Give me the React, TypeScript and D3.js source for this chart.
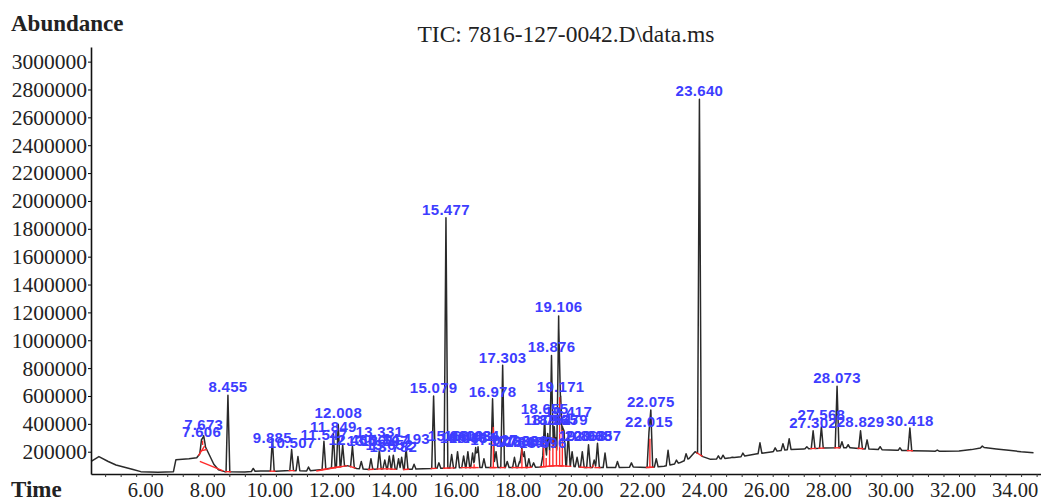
import * as d3 from "d3";
import { useRef, useEffect } from "react";

// TIC baseline: [time (min), abundance]
const baseline: [number, number][] = [
  [4.05, 130000], [4.3, 165000], [4.6, 130000], [4.85, 105000], [5.4, 72000],
  [5.65, 57000], [6.2, 52000], [6.7, 57000], [6.78, 143000], [7.2, 150000],
  [7.45, 157000], [7.55, 185000], [7.62, 250000], [7.72, 240000], [7.85, 180000],
  [8.0, 110000], [8.15, 70000], [8.35, 57000], [9.0, 55000], [9.5, 62000],
  [10.0, 60000], [10.5, 65000], [11.0, 62000], [11.5, 72000], [12.0, 90000],
  [12.3, 100000], [12.6, 80000], [13.0, 72000], [13.5, 78000], [14.0, 72000],
  [14.5, 75000], [15.0, 80000], [15.5, 82000], [16.0, 86000], [17.0, 86000],
  [18.0, 86000], [18.5, 90000], [19.0, 100000], [19.5, 95000], [20.0, 86000],
  [20.5, 86000], [21.0, 86000], [21.5, 90000], [22.0, 86000], [22.5, 95000],
  [23.0, 120000], [23.3, 150000], [23.5, 200000], [23.75, 165000], [24.0, 145000],
  [24.4, 150000], [25.0, 165000], [25.5, 185000], [26.0, 200000], [26.5, 215000],
  [27.0, 220000], [27.5, 225000], [28.0, 228000], [28.5, 228000], [29.0, 220000],
  [29.5, 215000], [30.0, 210000], [30.5, 207000], [31.0, 205000], [31.5, 203000],
  [32.0, 205000], [32.4, 215000], [32.8, 230000], [33.2, 220000], [33.6, 210000],
  [34.0, 200000], [34.4, 192000], [34.7, 190000],
];

// integrated peaks: [retention time, apex abundance, label level]
const labelledPeaks: [number, number, number][] = [
  [7.606, 290000, 307000], [7.673, 315000, 357000], [8.455, 605000, 629000],
  [9.885, 290000, 264000], [10.507, 215000, 229000], [11.547, 275000, 286000],
  [11.849, 330000, 343000], [12.008, 395000, 443000], [12.465, 240000, 250000],
  [13.061, 150000, 243000], [13.331, 210000, 307000], [13.507, 140000, 243000],
  [13.652, 170000, 214000], [13.782, 175000, 200000], [14.193, 225000, 257000],
  [15.079, 600000, 621000], [15.477, 1880000, 1900000], [15.660, 180000, 279000],
  [16.046, 170000, 264000], [16.183, 200000, 279000], [16.334, 190000, 264000],
  [16.434, 230000, 279000], [16.978, 580000, 593000], [17.027, 140000, 250000],
  [17.303, 820000, 836000], [17.683, 160000, 243000], [17.848, 130000, 236000],
  [17.998, 200000, 243000], [18.147, 150000, 236000], [18.596, 170000, 229000],
  [18.655, 440000, 471000], [18.754, 330000, 393000], [18.876, 890000, 914000],
  [18.965, 380000, 393000], [19.106, 1175000, 1200000], [19.171, 600000, 629000],
  [19.279, 350000, 393000], [19.417, 330000, 450000], [19.868, 200000, 279000],
  [20.068, 250000, 279000], [20.357, 260000, 279000], [22.015, 340000, 379000],
  [22.075, 500000, 521000], [23.640, 2730000, 2750000], [27.302, 350000, 371000],
  [27.568, 380000, 429000], [28.073, 670000, 693000], [28.829, 350000, 379000],
  [30.418, 370000, 386000],
];

// small unlabelled peaks: [time, apex abundance]
const minorPeaks: [number, number][] = [
  [9.27, 80000], [10.71, 165000], [11.05, 90000], [12.15, 250000], [12.75, 130000],
  [13.95, 150000], [14.05, 160000], [14.45, 110000], [15.25, 120000], [15.85, 200000],
  [16.51, 235000], [16.7, 150000], [17.09, 200000], [17.45, 130000], [17.92, 228000],
  [18.3, 120000], [18.8, 250000], [19.02, 300000], [19.23, 380000], [19.54, 200000],
  [19.7, 160000], [20.25, 140000], [20.6, 190000], [21.0, 130000], [21.45, 120000],
  [22.25, 150000], [22.63, 210000], [22.9, 140000], [23.21, 186000], [24.25, 170000],
  [24.4, 175000], [24.7, 160000], [25.04, 190000], [25.59, 264000], [26.08, 228000],
  [26.33, 257000], [26.53, 293000], [27.1, 235000], [28.23, 271000], [28.43, 250000],
  [29.04, 285000], [29.46, 236000], [30.1, 228000], [31.3, 212000], [32.75, 240000],
];

// manual integration baselines: [t1, v1, t2, v2]
const integrationLines: [number, number, number, number][] = [
  [7.55, 130000, 8.3, 62000],
  [11.3, 62000, 12.3, 100000],
];

const timeTicks = [6, 8, 10, 12, 14, 16, 18, 20, 22, 24, 26, 28, 30, 32, 34];
const abundanceTicks = [
  200000, 400000, 600000, 800000, 1000000, 1200000, 1400000, 1600000,
  1800000, 2000000, 2200000, 2400000, 2600000, 2800000, 3000000,
];

const SERIF = "'Liberation Serif', 'Times New Roman', serif";
const SANS = "'Liberation Sans', Arial, sans-serif";

const App = () => {
  const ref = useRef<SVGSVGElement>(null);

  useEffect(() => {
    const svg = d3.select(ref.current);
    svg.selectAll("*").remove();

    const x = d3.scaleLinear().domain([4.045, 34.641]).range([91, 1041]);
    const y = d3.scaleLinear().domain([40000, 3105000]).range([474, 47]);

    // baseline lookup between the read points
    const baseAt = d3.scaleLinear()
      .domain(baseline.map(d => d[0]))
      .range(baseline.map(d => d[1]))
      .clamp(true);

    const W = 0.06; // half width of a peak in minutes
    const allPeaks: [number, number][] = [
      ...labelledPeaks.map(p => [p[0], p[1]] as [number, number]),
      ...minorPeaks,
    ];
    const signal = (t: number) => {
      const b = baseAt(t);
      let h = 0;
      for (const [pt, pv] of allPeaks) {
        const d = Math.abs(t - pt);
        if (d < W) h = Math.max(h, (pv - baseAt(pt)) * (1 - d / W));
      }
      return b + h;
    };

    // vertices: baseline points, peak feet and apexes
    let times = baseline.map(d => d[0]);
    allPeaks.forEach(([pt]) => times.push(pt - W, pt, pt + W));
    times = Array.from(new Set(times.map(t => +t.toFixed(4))))
      .filter(t => t >= 4.05 && t <= 34.64)
      .sort((a, b) => a - b);
    const trace = times.map(t => [t, signal(t)] as [number, number]);

    const line = d3.line<[number, number]>().x(d => x(d[0])).y(d => y(d[1]));

    svg.append("path")
      .attr("d", line(trace))
      .attr("fill", "none")
      .attr("stroke", "#2a2a2a")
      .attr("stroke-width", 1.5)
      .attr("stroke-linejoin", "round");

    // integration marks in red
    const red = svg.append("g")
      .attr("stroke", "#ff2a2a")
      .attr("stroke-width", 1.4)
      .attr("fill", "none");
    integrationLines.forEach(([t1, v1, t2, v2]) => {
      red.append("line")
        .attr("x1", x(t1)).attr("y1", y(v1))
        .attr("x2", x(t2)).attr("y2", y(v2));
    });
    labelledPeaks.forEach(([t]) => {
      red.append("line")
        .attr("x1", x(t - 0.1)).attr("y1", y(baseAt(t - 0.1)))
        .attr("x2", x(t + 0.1)).attr("y2", y(baseAt(t + 0.1)));
    });
    for (let i = 1; i < labelledPeaks.length; i++) {
      const a = labelledPeaks[i - 1][0];
      const b = labelledPeaks[i][0];
      if (b - a < 0.3) {
        const m = (a + b) / 2;
        red.append("line")
          .attr("x1", x(m)).attr("y1", y(baseAt(m)))
          .attr("x2", x(m)).attr("y2", y(signal(m)));
      }
    }

    // axes
    const yAxis = d3.axisLeft(y)
      .tickValues(abundanceTicks)
      .tickSize(3)
      .tickSizeOuter(0)
      .tickPadding(1)
      .tickFormat(d3.format("d"));
    const gy = svg.append("g")
      .attr("transform", "translate(91,0)")
      .call(yAxis);
    gy.attr("font-family", SERIF).attr("font-size", 21.5);
    gy.select(".domain").attr("stroke", "#111").attr("stroke-width", 1.6);
    gy.selectAll("text").attr("fill", "#222");

    const minorTicks = d3.range(4.5, 34.6, 0.5);
    const xMinor = d3.axisBottom(x)
      .tickValues(minorTicks)
      .tickSize(3)
      .tickSizeOuter(0)
      .tickFormat(() => "");
    const gx = svg.append("g")
      .attr("transform", "translate(0,474)")
      .call(xMinor);
    gx.select(".domain").attr("stroke", "#111").attr("stroke-width", 1.6);
    gx.selectAll(".tick line").attr("stroke", "#333");

    svg.append("g")
      .selectAll("text")
      .data(timeTicks)
      .join("text")
      .attr("x", d => x(d) - 6)
      .attr("y", 497)
      .attr("text-anchor", "middle")
      .attr("font-family", SERIF)
      .attr("font-size", 20.5)
      .attr("fill", "#222")
      .text(d => d.toFixed(2));

    // peak labels
    svg.append("g")
      .selectAll("text")
      .data(labelledPeaks)
      .join("text")
      .attr("x", d => x(d[0]))
      .attr("y", d => y(d[2]))
      .attr("text-anchor", "middle")
      .attr("font-family", SANS)
      .attr("font-size", 15)
      .attr("font-weight", 600)
      .attr("letter-spacing", 0.3)
      .attr("fill", "#3d3dff")
      .text(d => d[0].toFixed(3));

    // titles
    svg.append("text")
      .attr("x", 11).attr("y", 31)
      .attr("font-family", SERIF).attr("font-size", 23).attr("font-weight", "bold")
      .attr("fill", "#222")
      .text("Abundance");
    svg.append("text")
      .attr("x", 11).attr("y", 497)
      .attr("font-family", SERIF).attr("font-size", 23).attr("font-weight", "bold")
      .attr("fill", "#222")
      .text("Time");
    svg.append("text")
      .attr("x", 566).attr("y", 42)
      .attr("text-anchor", "middle")
      .attr("font-family", SERIF).attr("font-size", 23.5)
      .attr("fill", "#222")
      .text("TIC: 7816-127-0042.D\\data.ms");
  }, []);

  return (
    <svg
      ref={ref}
      width={1041}
      height={500}
      style={{ position: "absolute", left: 0, top: 0, background: "#fff" }}
    />
  );
};

export default App;
